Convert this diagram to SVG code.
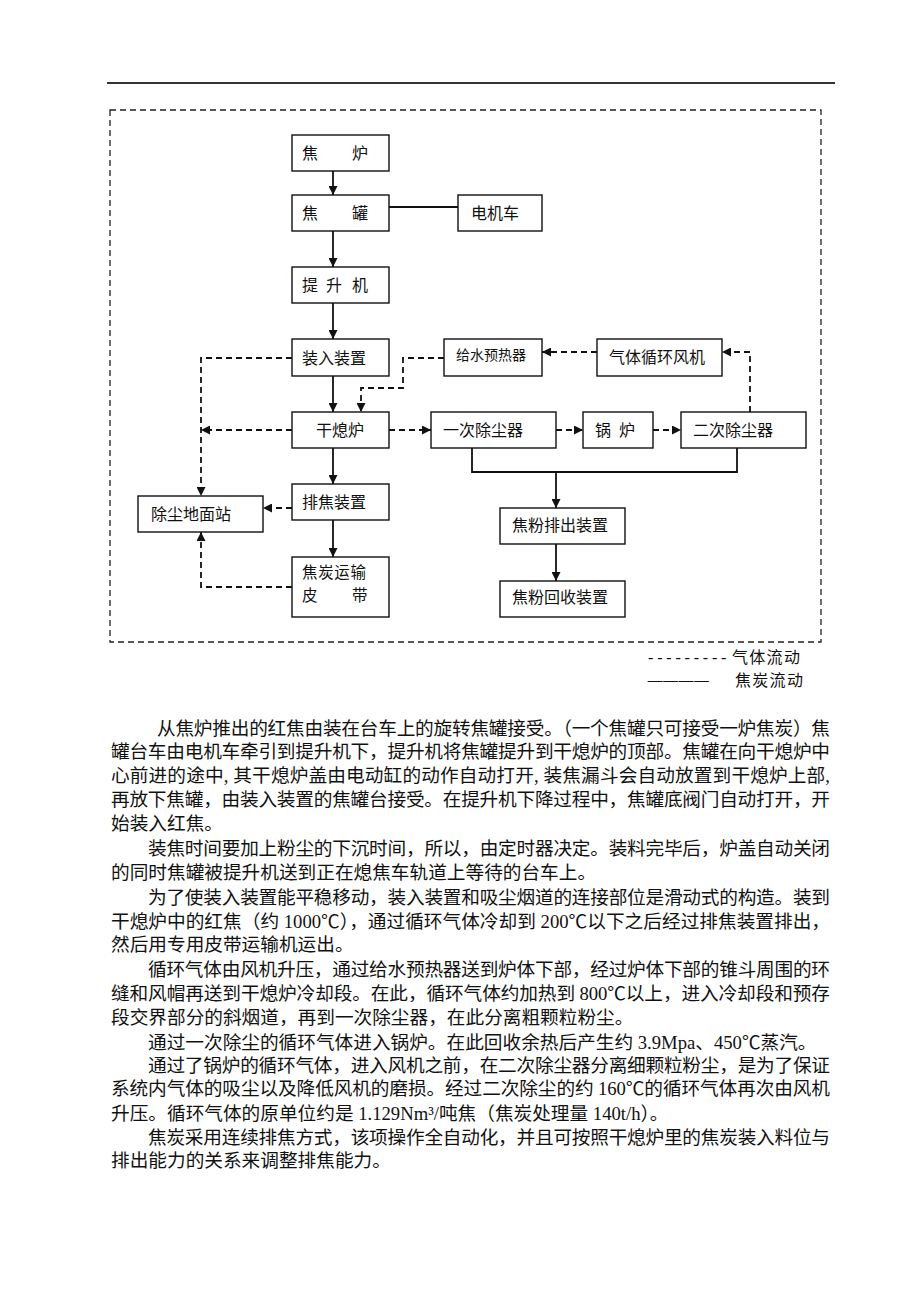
<svg xmlns="http://www.w3.org/2000/svg" width="920" height="1302" viewBox="0 0 920 1302">
<style>
.bg{fill:#fff}
.box{fill:#fff;stroke:#111;stroke-width:1.4}
.lbl{font-family:"Noto Sans CJK SC",sans-serif;font-size:16px;fill:#111}
.sm{font-size:14px}
.two{font-size:15.5px}
.solid{fill:none;stroke:#111;stroke-width:1.8}
.dash{fill:none;stroke:#111;stroke-width:1.8;stroke-dasharray:6 4}
.border{fill:none;stroke:#222;stroke-width:1.3;stroke-dasharray:6 4}
.para{font-family:"Liberation Serif","Noto Sans CJK SC",serif;font-size:18.67px;fill:#111}
.leg{font-family:"Liberation Serif","Noto Sans CJK SC",serif;font-size:16px;fill:#111}
</style>
<defs>
<marker id="ah" viewBox="0 0 10 10" refX="10" refY="5" markerWidth="9" markerHeight="9" markerUnits="userSpaceOnUse" orient="auto">
<path d="M0,0 L10,5 L0,10 z" fill="#111"/>
</marker>
</defs>
<rect class="bg" x="0" y="0" width="920" height="1302"/>
<line x1="107" y1="83" x2="835" y2="83" stroke="#333" stroke-width="2"/>
<rect class="border" x="110" y="110" width="711" height="532"/>

<g id="connectors">
<line class="solid" x1="333" y1="171" x2="333" y2="195" marker-end="url(#ah)"/>
<line class="solid" x1="389" y1="207" x2="458" y2="207"/>
<line class="solid" x1="333" y1="231" x2="333" y2="267" marker-end="url(#ah)"/>
<line class="solid" x1="333" y1="303" x2="333" y2="339" marker-end="url(#ah)"/>
<line class="solid" x1="333" y1="376" x2="333" y2="412" marker-end="url(#ah)"/>
<line class="solid" x1="333" y1="448" x2="333" y2="484" marker-end="url(#ah)"/>
<line class="solid" x1="333" y1="520" x2="333" y2="557" marker-end="url(#ah)"/>
<polyline class="solid" points="472,448 472,472 737,472 737,448"/>
<line class="solid" x1="556" y1="472" x2="556" y2="508" marker-end="url(#ah)"/>
<line class="solid" x1="556" y1="544" x2="556" y2="581" marker-end="url(#ah)"/>

<polyline class="dash" points="292,358 201,358 201,496" marker-end="url(#ah)"/>
<line class="dash" x1="292" y1="430" x2="201" y2="430" marker-end="url(#ah)"/>
<polyline class="dash" points="444,358 403,358 403,388 361,388 361,412" marker-end="url(#ah)"/>
<line class="dash" x1="389" y1="430" x2="431" y2="430" marker-end="url(#ah)"/>
<line class="dash" x1="556" y1="430" x2="583" y2="430" marker-end="url(#ah)"/>
<line class="dash" x1="653" y1="430" x2="681" y2="430" marker-end="url(#ah)"/>
<polyline class="dash" points="750,412 750,352 722,352" marker-end="url(#ah)"/>
<line class="dash" x1="597" y1="352" x2="542" y2="352" marker-end="url(#ah)"/>
<line class="dash" x1="292" y1="508" x2="263" y2="508" marker-end="url(#ah)"/>
<polyline class="dash" points="292,587 201,587 201,532" marker-end="url(#ah)"/>
</g>

<g id="n-jiaolu"><rect class="box" x="292" y="135" width="97" height="36"/><text class="lbl" y="159"><tspan x="302">焦</tspan><tspan x="352">炉</tspan></text></g>
<g id="n-jiaoguan"><rect class="box" x="292" y="195" width="97" height="36"/><text class="lbl" y="219"><tspan x="302">焦</tspan><tspan x="352">罐</tspan></text></g>
<g id="n-dianjiche"><rect class="box" x="458" y="195" width="84" height="36"/><text class="lbl" x="471" y="219">电机车</text></g>
<g id="n-tishengji"><rect class="box" x="292" y="267" width="97" height="36"/><text class="lbl" y="291"><tspan x="302">提</tspan><tspan x="326">升</tspan><tspan x="352">机</tspan></text></g>
<g id="n-zhuangru"><rect class="box" x="292" y="339" width="97" height="37"/><text class="lbl" x="302" y="363.5">装入装置</text></g>
<g id="n-geishui"><rect class="box" x="444" y="339" width="98" height="37"/><text class="lbl sm" x="456" y="360">给水预热器</text></g>
<g id="n-fengji"><rect class="box" x="597" y="339" width="125" height="37"/><text class="lbl" x="609" y="362.5">气体循环风机</text></g>
<g id="n-ganxilu"><rect class="box" x="292" y="412" width="97" height="36"/><text class="lbl" x="316" y="436">干熄炉</text></g>
<g id="n-yici"><rect class="box" x="431" y="412" width="125" height="36"/><text class="lbl" x="443" y="435.5">一次除尘器</text></g>
<g id="n-guolu"><rect class="box" x="583" y="412" width="70" height="36"/><text class="lbl" y="436"><tspan x="595">锅</tspan><tspan x="619">炉</tspan></text></g>
<g id="n-erci"><rect class="box" x="681" y="412" width="125" height="36"/><text class="lbl" x="693" y="435.5">二次除尘器</text></g>
<g id="n-dimianzhan"><rect class="box" x="138" y="496" width="125" height="36"/><text class="lbl" x="151" y="520">除尘地面站</text></g>
<g id="n-paijiao"><rect class="box" x="292" y="484" width="97" height="36"/><text class="lbl" x="302" y="508">排焦装置</text></g>
<g id="n-yunshu"><rect class="box" x="292" y="557" width="97" height="60"/><text class="lbl two" x="302" y="578" textLength="64">焦炭运输</text><text class="lbl two" y="601"><tspan x="302">皮</tspan><tspan x="352">带</tspan></text></g>
<g id="n-paichu"><rect class="box" x="500" y="508" width="125" height="36"/><text class="lbl" x="512" y="531">焦粉排出装置</text></g>
<g id="n-huishou"><rect class="box" x="500" y="581" width="125" height="36"/><text class="lbl" x="512" y="603">焦粉回收装置</text></g>

<g id="legend">
<text class="leg" y="663"><tspan x="648" letter-spacing="3.8">---------</tspan><tspan x="732" letter-spacing="1.3">气体流动</tspan></text>
<text class="leg" y="685"><tspan x="648 663.5 679 694.5" font-size="14" stroke="#111" stroke-width="0.5">————</tspan><tspan x="735" dy="1" letter-spacing="1.3">焦炭流动</tspan></text>
</g>

<g id="text">
<text class="para" x="157" y="735" textLength="673" lengthAdjust="spacing">从焦炉推出的红焦由装在台车上的旋转焦罐接受。（一个焦罐只可接受一炉焦炭）焦</text>
<text class="para" x="111" y="758" textLength="719" lengthAdjust="spacing">罐台车由电机车牵引到提升机下，提升机将焦罐提升到干熄炉的顶部。焦罐在向干熄炉中</text>
<text class="para" x="111" y="782" textLength="719" lengthAdjust="spacing">心前进的途中, 其干熄炉盖由电动缸的动作自动打开, 装焦漏斗会自动放置到干熄炉上部,</text>
<text class="para" x="111" y="806" textLength="719" lengthAdjust="spacing">再放下焦罐，由装入装置的焦罐台接受。在提升机下降过程中，焦罐底阀门自动打开，开</text>
<text class="para" x="111" y="830">始装入红焦。</text>
<text class="para" x="148" y="855" textLength="682" lengthAdjust="spacing">装焦时间要加上粉尘的下沉时间，所以，由定时器决定。装料完毕后，炉盖自动关闭</text>
<text class="para" x="111" y="879">的同时焦罐被提升机送到正在熄焦车轨道上等待的台车上。</text>
<text class="para" x="148" y="904" textLength="682" lengthAdjust="spacing">为了使装入装置能平稳移动，装入装置和吸尘烟道的连接部位是滑动式的构造。装到</text>
<text class="para" x="111" y="928" textLength="719" lengthAdjust="spacing">干熄炉中的红焦（约 1000℃），通过循环气体冷却到 200℃以下之后经过排焦装置排出，</text>
<text class="para" x="111" y="951">然后用专用皮带运输机运出。</text>
<text class="para" x="148" y="976" textLength="682" lengthAdjust="spacing">循环气体由风机升压，通过给水预热器送到炉体下部，经过炉体下部的锥斗周围的环</text>
<text class="para" x="111" y="1000" textLength="719" lengthAdjust="spacing">缝和风帽再送到干熄炉冷却段。在此，循环气体约加热到 800℃以上，进入冷却段和预存</text>
<text class="para" x="111" y="1024">段交界部分的斜烟道，再到一次除尘器，在此分离粗颗粒粉尘。</text>
<text class="para" x="148" y="1049">通过一次除尘的循环气体进入锅炉。在此回收余热后产生约 3.9Mpa、450℃蒸汽。</text>
<text class="para" x="148" y="1072" textLength="682" lengthAdjust="spacing">通过了锅炉的循环气体，进入风机之前，在二次除尘器分离细颗粒粉尘，是为了保证</text>
<text class="para" x="111" y="1095" textLength="719" lengthAdjust="spacing">系统内气体的吸尘以及降低风机的磨损。经过二次除尘的约 160℃的循环气体再次由风机</text>
<text class="para" x="111" y="1120">升压。循环气体的原单位约是 1.129Nm³/吨焦（焦炭处理量 140t/h）。</text>
<text class="para" x="148" y="1144" textLength="682" lengthAdjust="spacing">焦炭采用连续排焦方式，该项操作全自动化，并且可按照干熄炉里的焦炭装入料位与</text>
<text class="para" x="111" y="1167">排出能力的关系来调整排焦能力。</text>
</g>
</svg>
